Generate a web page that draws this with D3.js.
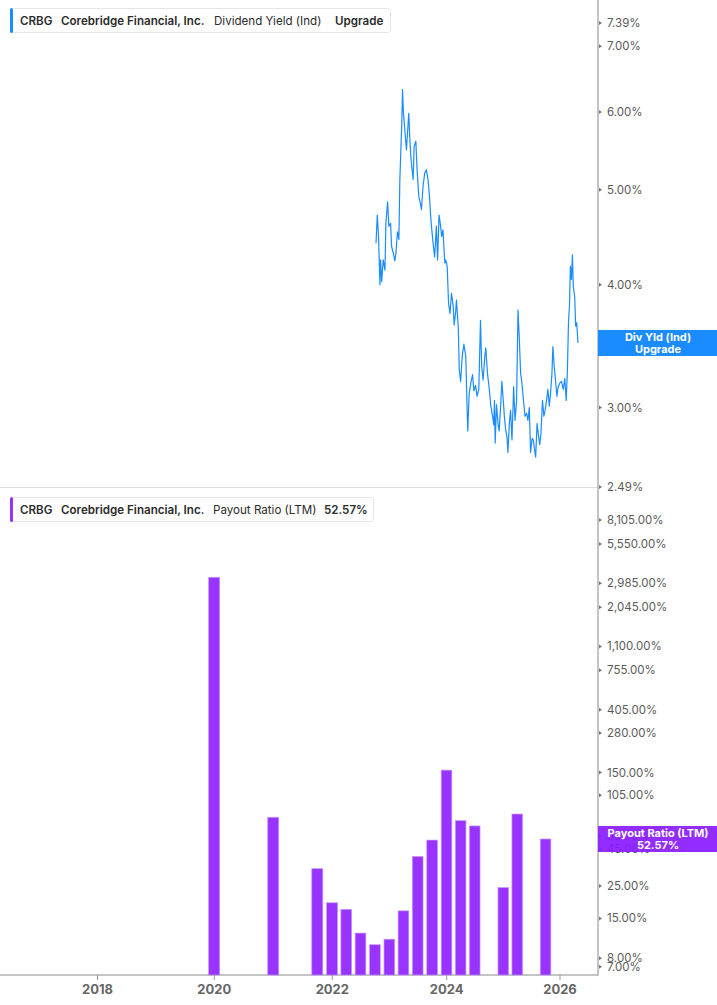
<!DOCTYPE html>
<html><head><meta charset="utf-8">
<script src="https://cdn.jsdelivr.net/npm/d3@7"></script>
<style>
html,body{margin:0;padding:0;background:#fff;}
svg{display:block;font-family:Inter,"Noto Sans",sans-serif;}
</style></head><body>
<svg id="c" width="717" height="1005"></svg>
<script>
// ---- Data ----
const yieldDates = ["2022-10-07","2022-10-15","2022-10-23","2022-11-01","2022-11-05","2022-11-12","2022-11-22","2022-12-03","2022-12-09","2022-12-20","2022-12-28","2023-01-08","2023-01-14","2023-01-25","2023-02-04","2023-02-11","2023-02-21","2023-03-02","2023-03-08","2023-03-14","2023-03-21","2023-03-25","2023-03-31","2023-04-09","2023-04-19","2023-04-26","2023-05-04","2023-05-11","2023-05-17","2023-05-23","2023-06-01","2023-06-07","2023-06-18","2023-06-26","2023-07-07","2023-07-17","2023-07-24","2023-08-03","2023-08-14","2023-08-24","2023-09-04","2023-09-13","2023-09-21","2023-09-27","2023-10-06","2023-10-16","2023-10-27","2023-11-04","2023-11-13","2023-11-21","2023-11-30","2023-12-08","2023-12-20","2023-12-26","2024-01-04","2024-01-13","2024-01-22","2024-02-01","2024-02-12","2024-02-18","2024-02-27","2024-03-04","2024-03-16","2024-03-22","2024-03-31","2024-04-10","2024-04-21","2024-05-03","2024-05-12","2024-05-16","2024-05-25","2024-06-05","2024-06-16","2024-06-24","2024-07-05","2024-07-15","2024-07-26","2024-08-06","2024-08-14","2024-08-23","2024-09-03","2024-09-09","2024-09-20","2024-10-01","2024-10-12","2024-10-23","2024-10-31","2024-11-04","2024-11-09","2024-11-17","2024-11-29","2024-12-05","2024-12-14","2024-12-22","2024-12-31","2025-01-07","2025-01-15","2025-01-24","2025-01-30","2025-02-08","2025-02-16","2025-02-25","2025-03-08","2025-03-17","2025-03-27","2025-04-05","2025-04-13","2025-04-22","2025-04-30","2025-05-12","2025-05-20","2025-05-31","2025-06-08","2025-06-17","2025-06-25","2025-07-05","2025-07-13","2025-07-22","2025-07-28","2025-08-06","2025-08-14","2025-08-23","2025-08-31","2025-09-10","2025-09-19","2025-09-27","2025-10-06","2025-10-15","2025-10-24","2025-11-01","2025-11-10","2025-11-16","2025-11-25","2025-12-03","2025-12-12","2025-12-20","2026-01-01","2026-01-11","2026-01-22","2026-02-01","2026-02-10","2026-02-18","2026-02-25","2026-03-03","2026-03-09","2026-03-16","2026-03-22","2026-03-28","2026-04-06","2026-04-12","2026-04-19","2026-04-27"];
const yieldValues = [4.41,4.71,4.48,4.00,4.24,4.03,4.24,4.14,4.62,4.86,4.59,4.62,4.38,4.31,4.23,4.31,4.53,4.45,5.12,5.45,5.89,6.32,5.98,5.75,5.49,5.71,5.98,5.62,5.40,5.28,5.12,5.53,5.60,5.24,4.92,4.84,4.77,5.04,5.20,5.24,5.12,4.92,4.69,4.57,4.41,4.27,4.59,4.24,4.71,4.62,4.48,4.55,4.21,4.24,4.18,3.83,3.74,3.92,3.80,3.64,3.74,3.86,3.61,3.28,3.19,3.38,3.48,3.38,2.98,2.84,3.10,3.18,3.24,3.12,3.16,3.08,3.13,3.68,3.30,3.20,3.38,3.45,3.25,3.14,3.01,2.94,2.88,3.05,2.76,3.02,2.87,2.84,3.01,3.19,3.05,2.94,2.85,2.80,2.70,2.89,2.98,2.78,3.15,2.91,3.05,3.77,3.54,3.25,3.18,3.03,2.94,2.96,2.91,3.00,2.70,2.79,2.78,2.71,2.67,2.89,2.82,2.75,2.82,3.05,2.94,2.98,3.05,3.13,3.01,3.10,3.25,3.46,3.30,3.20,3.08,3.15,3.18,3.19,3.13,3.21,3.05,3.28,3.68,3.80,4.18,4.05,4.29,3.98,3.89,3.63,3.66,3.49];

const payoutDates = ["2019-12-31","2020-12-31","2021-09-30","2021-12-31","2022-03-31","2022-06-30","2022-09-30","2022-12-31","2023-03-31","2023-06-30","2023-09-30","2023-12-31","2024-03-31","2024-06-30","2024-12-31","2025-03-31","2025-09-30"];
const payoutValues = [3278,74.1,32.9,19.2,17.3,11.9,9.9,10.8,16.9,39.8,51.7,156,70.2,64.6,24.4,78.0,52.57];

const yieldTicks = [2.49,3,4,5,6,7,7.39];
const payoutTicks = [7,8,15,25,45,55,105,150,280,405,755,1100,2045,2985,5550,8105];
const yearTicks = [2018,2020,2022,2024,2026];

const yieldLast = 3.49;
const payoutLast = 52.57;

// ---- Setup ----
const svg = d3.select("#c");
const parse = d3.timeParse("%Y-%m-%d");
const AX = 598;
const BLUE = "#1a8cff", PURPLE = "#9933ff";

const x = d3.scaleTime()
  .domain(yearTicks.map(y => new Date(y,0,1)))
  .range([97.5, 214.3, 332.3, 446.7, 560]);

const yTop = d3.scaleLog().domain([2.49, 7.39]).range([487, 23]);
const yBot = d3.scaleLog().domain([6.14, 13005]).range([975, 490]);

const pct = d3.format(",.2f");

// separator & axes lines
svg.append("line").attr("x1",0).attr("x2",AX).attr("y1",487.5).attr("y2",487.5).attr("stroke","#dedede").attr("stroke-width",1);
svg.append("line").attr("x1",0).attr("x2",AX).attr("y1",975).attr("y2",975).attr("stroke","#b0b0b0").attr("stroke-width",1.5);
svg.append("line").attr("x1",AX).attr("x2",AX).attr("y1",0).attr("y2",975.5).attr("stroke","#b0b0b0").attr("stroke-width",1.5);

// ---- Top panel: line ----
const yData = yieldDates.map((d,i)=>({date:parse(d), v:yieldValues[i]}));
svg.append("path").datum(yData)
  .attr("fill","none").attr("stroke",BLUE).attr("stroke-width",1.2).attr("stroke-linejoin","round")
  .attr("d", d3.line().x(d=>x(d.date)).y(d=>yTop(d.v)));

// ---- Bottom panel: bars ----
const pData = payoutDates.map((d,i)=>({date:parse(d), v:payoutValues[i]}));
const halfSpan = 34*864e5;
svg.append("g").selectAll("rect").data(pData).join("rect")
  .attr("x", d=>x(new Date(+d.date-halfSpan)))
  .attr("width", d=>x(new Date(+d.date+halfSpan))-x(new Date(+d.date-halfSpan)))
  .attr("y", d=>yBot(d.v))
  .attr("height", d=>yBot.range()[0]-yBot(d.v))
  .attr("fill",PURPLE).attr("stroke","#c191ff").attr("stroke-width",0.7);

// ---- Right axes ----
function rightAxis(scale, ticks){
  const g = svg.append("g");
  const t = g.selectAll("g").data(ticks).join("g").attr("transform",d=>`translate(${AX},${scale(d)})`);
  t.append("path").attr("d","M1,-2L4,0L1,2Z").attr("fill","#777");
  t.append("text").attr("x",9).attr("dy","0.35em").attr("font-size",11.5).attr("fill","#5a5a5a")
    .text(d=>pct(d)+"%");
}
rightAxis(yTop, yieldTicks);
rightAxis(yBot, payoutTicks);

// ---- Bottom x axis ----
const xg = svg.append("g");
const xt = xg.selectAll("g").data(yearTicks).join("g").attr("transform",d=>`translate(${x(new Date(d,0,1))},975)`);
xt.append("line").attr("y1",0).attr("y2",5).attr("stroke","#999").attr("stroke-width",1);
xt.append("text").attr("y",19).attr("text-anchor","middle").attr("font-size",13).attr("font-weight",700).attr("fill","#666").text(d=>d);

// ---- Axis value labels ----
function valueLabel(yc, color, l1, l2, op){
  svg.append("rect").attr("x",AX).attr("y",yc-13).attr("width",717-AX).attr("height",26).attr("fill",color).attr("opacity",op);
  svg.append("text").attr("x",658).attr("y",yc-2).attr("text-anchor","middle").attr("font-size",11).attr("font-weight",700).attr("fill","#fff").text(l1);
  svg.append("text").attr("x",658).attr("y",yc+10).attr("text-anchor","middle").attr("font-size",11).attr("font-weight",700).attr("fill","#fff").text(l2);
}
valueLabel(yTop(yieldLast), BLUE, "Div Yld (Ind)", "Upgrade", 1);
valueLabel(yBot(payoutLast), "#8a1cff", "Payout Ratio (LTM)", pct(payoutLast)+"%", 0.93);

// ---- Legends ----
function legend(y0, w, color, parts){
  svg.append("rect").attr("x",10.5).attr("y",y0+0.5).attr("width",w).attr("height",24).attr("rx",3)
    .attr("fill","#fff").attr("stroke","#e6e6e6");
  svg.append("rect").attr("x",10).attr("y",y0).attr("width",3).attr("height",25).attr("rx",1.5).attr("fill",color);
  parts.forEach(p=>{
    svg.append("text").attr("x",p[0]).attr("y",y0+17).attr("font-size",11.6)
      .attr("font-weight",p[2]?600:400).attr("fill","#2b2b2b").text(p[1]);
  });
}
legend(8, 380, BLUE, [[20,"CRBG",1],[61,"Corebridge Financial, Inc.",1],[214,"Dividend Yield (Ind)",0],[335,"Upgrade",1]]);
legend(497, 363, PURPLE, [[20,"CRBG",1],[61,"Corebridge Financial, Inc.",1],[213,"Payout Ratio (LTM)",0],[324,pct(payoutLast)+"%",1]]);
</script>
</body></html>
